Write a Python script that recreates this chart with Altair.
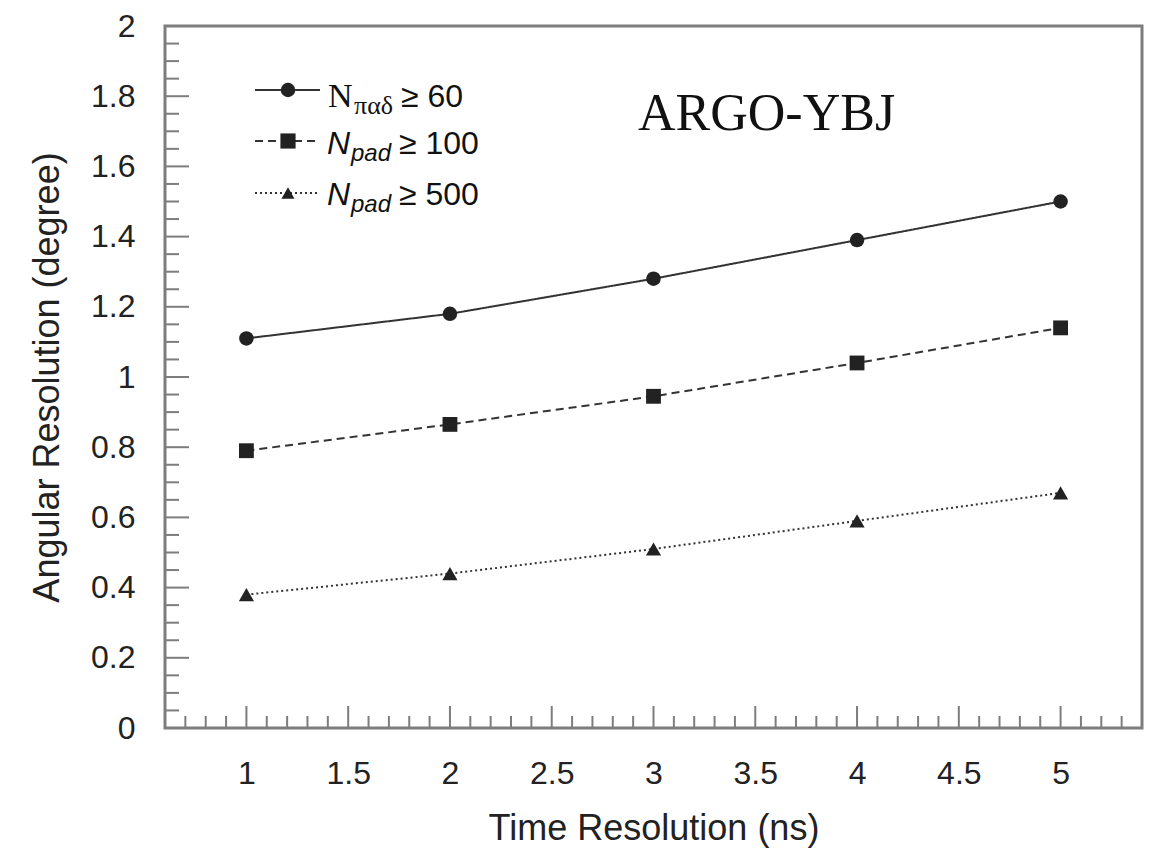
import altair as alt
import pandas as pd

# ---- data ----
time_res = [1, 2, 3, 4, 5]
npad60 = [1.11, 1.18, 1.28, 1.39, 1.50]
npad100 = [0.79, 0.865, 0.945, 1.04, 1.14]
npad500 = [0.38, 0.44, 0.51, 0.59, 0.67]
series_names = ["N≥60", "Npad≥100", "Npad≥500"]

x_major = [1, 1.5, 2, 2.5, 3, 3.5, 4, 4.5, 5]
y_major = [0, 0.2, 0.4, 0.6, 0.8, 1, 1.2, 1.4, 1.6, 1.8, 2]
x_minor = [round(0.7 + 0.1 * i, 2) for i in range(47)]
x_minor = [v for v in x_minor if round(v * 2, 6) != round(v * 2)]
y_minor = [round(0.05 * i, 2) for i in range(1, 40)]
y_minor = [v for v in y_minor if abs(v * 5 - round(v * 5)) > 1e-6]

W, H = 977, 702
INK = "#222222"
GRAY = "#7d7d7d"
SANS = "Liberation Sans"
SERIF = "Liberation Serif"

rows = []
for name, vals in zip(series_names, [npad60, npad100, npad500]):
    for t, v in zip(time_res, vals):
        rows.append({"series": name, "t": t, "res": v})
df = pd.DataFrame(rows)

xs = alt.Scale(domain=[0.6, 5.4], nice=False, zero=False)
ys = alt.Scale(domain=[0, 2], nice=False, zero=True)

dash_scale = alt.Scale(domain=series_names, range=[[1, 0], [8, 5], [2, 3]])
shape_scale = alt.Scale(domain=series_names, range=["circle", "square", "triangle-up"])
size_scale = alt.Scale(domain=series_names, range=[210, 230, 170])

lines = alt.Chart(df).mark_line(color="#333333", strokeWidth=2).encode(
    x=alt.X("t:Q", scale=xs, axis=alt.Axis(
        values=x_major, format="~g", title="Time Resolution (ns)", tickSize=0, domain=False,
        grid=False, labelFont=SANS, labelFontSize=32, labelColor=INK,
        labelPadding=30, titleFont=SANS, titleFontSize=36, titleFontWeight="normal",
        titleColor=INK, titlePadding=22, labelFlush=False)),
    y=alt.Y("res:Q", scale=ys, axis=alt.Axis(
        values=y_major, format="~g", title="Angular Resolution (degree)", tickSize=0,
        domain=False, grid=False, labelFont=SANS, labelFontSize=32, labelColor=INK,
        labelPadding=30, titleFont=SANS, titleFontSize=36, titleFontWeight="normal",
        titleColor=INK, titlePadding=24, labelFlush=False)),
    strokeDash=alt.StrokeDash("series:N", scale=dash_scale, legend=None),
    detail="series:N",
)

points = alt.Chart(df).mark_point(filled=True, color=INK, opacity=1).encode(
    x=alt.X("t:Q", scale=xs),
    y=alt.Y("res:Q", scale=ys),
    shape=alt.Shape("series:N", scale=shape_scale, legend=None),
    size=alt.Size("series:N", scale=size_scale, legend=None),
)

# inward ticks
def xticks(vals, length):
    return alt.Chart(pd.DataFrame({"t": vals})).mark_rule(color=GRAY, strokeWidth=2).encode(
        x=alt.X("t:Q", scale=xs), y=alt.value(H), y2=alt.value(H - length))

def yticks(vals, length):
    return alt.Chart(pd.DataFrame({"res": vals})).mark_rule(color=GRAY, strokeWidth=2).encode(
        y=alt.Y("res:Q", scale=ys), x=alt.value(0), x2=alt.value(length))

one = pd.DataFrame({"k": [0]})

def txt(s, x, y, font, size, style="normal"):
    return alt.Chart(one).mark_text(text=s, align="left", baseline="alphabetic",
                                    font=font, fontSize=size, fontStyle=style,
                                    color="#111111").encode(x=alt.value(x), y=alt.value(y))

def leg_line(y, dash):
    return alt.Chart(one).mark_rule(color="#333333", strokeWidth=2, strokeDash=dash).encode(
        x=alt.value(90), x2=alt.value(155), y=alt.value(y))

def leg_sym(y, shape, size):
    return alt.Chart(one).mark_point(filled=True, color=INK, opacity=1, shape=shape, size=size).encode(
        x=alt.value(123), y=alt.value(y))

legend = [
    leg_line(64, [1, 0]), leg_sym(64, "circle", 210),
    leg_line(115, [8, 5]), leg_sym(115, "square", 230),
    leg_line(167, [2, 3]), leg_sym(167, "triangle-up", 170),
    txt("N", 163, 81, SERIF, 34), txt("παδ", 189, 88, SERIF, 26), txt("≥ 60", 236, 81, SANS, 32),
    txt("N", 162, 128, SANS, 32, "italic"), txt("pad", 186, 135, SANS, 24, "italic"), txt("≥ 100", 234, 128, SANS, 32),
    txt("N", 162, 179, SANS, 32, "italic"), txt("pad", 186, 186, SANS, 24, "italic"), txt("≥ 500", 234, 179, SANS, 32),
    txt("ARGO-YBJ", 473, 104, SERIF, 52),
]

chart = alt.layer(
    lines, points,
    xticks(x_minor, 12), xticks(x_major, 22),
    yticks(y_minor, 14), yticks(y_major, 24),
    *legend,
).properties(
    width=W, height=H,
    background="white",
    autosize=alt.AutoSizeParams(type="none"),
    padding={"left": 157, "top": 18, "right": 5, "bottom": 121},
).configure_view(
    stroke=GRAY, strokeWidth=3, fill="white"
)

chart.save("out.html", embed_options={"renderer": "svg", "actions": False})
